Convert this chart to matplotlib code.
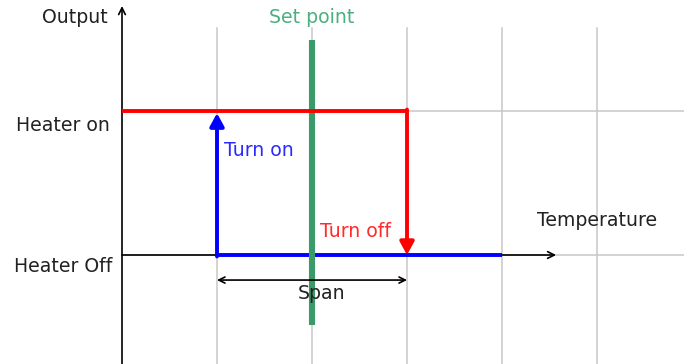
import matplotlib
matplotlib.use("Agg")
import matplotlib.pyplot as plt

# ---- data (temperature in grid units, output 0 = off, 1 = on) ----
grid_temps = [1, 2, 3, 4, 5]
output_levels = [0, 1]
set_point = 2
turn_on_temp = 1
turn_off_temp = 3
blue_off_path_t = [1, 4]
red_on_path_t = [0, 3]
set_point_range = [-0.486, 1.493]
level_labels = ["Heater Off", "Heater on"]

fig = plt.figure(figsize=(6.84, 3.64), dpi=100)
ax = fig.add_axes([0, 0, 1, 1])
ax.set_xlim(-122 / 95, (684 - 122) / 95)
ax.set_ylim((255 - 364) / 144, 255 / 144)
ax.axis("off")

grid_c = "#c8c8c8"
top_grid = 1.576
# vertical grid lines
for t in grid_temps:
    ax.plot([t, t], [ax.get_ylim()[0], top_grid], color=grid_c, lw=1.1, zorder=1)
# horizontal grid lines
for o in output_levels:
    ax.plot([0, ax.get_xlim()[1]], [o, o], color=grid_c, lw=1.1, zorder=1)

# y axis
ax.annotate("", xy=(0, 1.729), xytext=(0, ax.get_ylim()[0]),
            arrowprops=dict(arrowstyle="->", color="black", lw=1.2,
                            shrinkA=0, shrinkB=0, mutation_scale=12), zorder=2)
# x axis
ax.annotate("", xy=(4.57, 0), xytext=(0, 0),
            arrowprops=dict(arrowstyle="->", color="black", lw=1.2,
                            shrinkA=0, shrinkB=0, mutation_scale=12), zorder=2)

# blue off path + turn on arrow
ax.plot(blue_off_path_t, [output_levels[0]] * 2, color="#0000ff", lw=2.8,
        solid_capstyle="butt", zorder=3)
ax.annotate("", xy=(turn_on_temp, 0.985), xytext=(turn_on_temp, output_levels[0] - 0.01),
            arrowprops=dict(arrowstyle="-|>,head_length=0.55,head_width=0.3",
                            color="#0000ff", lw=2.8, shrinkA=0, shrinkB=0,
                            mutation_scale=14), zorder=3)

# set point
ax.plot([set_point, set_point], set_point_range, color="#3a9a6a", lw=4.4,
        solid_capstyle="butt", zorder=4)

# red on path + turn off arrow
ax.plot(red_on_path_t, [output_levels[1]] * 2, color="#ff0000", lw=2.8,
        solid_capstyle="butt", zorder=5)
ax.annotate("", xy=(turn_off_temp, output_levels[0]), xytext=(turn_off_temp, output_levels[1] + 0.01),
            arrowprops=dict(arrowstyle="-|>,head_length=0.55,head_width=0.3",
                            color="#ff0000", lw=2.8, shrinkA=0, shrinkB=0,
                            mutation_scale=14), zorder=5)

# span
ax.annotate("", xy=(turn_off_temp, -0.174), xytext=(turn_on_temp, -0.174),
            arrowprops=dict(arrowstyle="<->", color="black", lw=1.2,
                            shrinkA=0, shrinkB=0, mutation_scale=11), zorder=4)

fs = 13.6
tc = "#222222"
ax.text(-0.147, 1.646, "Output", ha="right", va="center", fontsize=fs, color=tc, zorder=6)
ax.text(set_point, 1.646, "Set point", ha="center", va="center", fontsize=fs, color="#4caf80", zorder=6)
ax.text(-0.126, 0.896, level_labels[1], ha="right", va="center", fontsize=fs, color=tc, zorder=6)
ax.text(-0.105, -0.083, level_labels[0], ha="right", va="center", fontsize=fs, color=tc, zorder=6)
ax.text(1.074, 0.729, "Turn on", ha="left", va="center", fontsize=fs, color="#2b2bff", zorder=6)
ax.text(2.084, 0.160, "Turn off", ha="left", va="center", fontsize=fs, color="#ff2b2b", zorder=6)
ax.text(4.368, 0.243, "Temperature", ha="left", va="center", fontsize=fs, color=tc, zorder=6)
ax.text(2.105, -0.264, "Span", ha="center", va="center", fontsize=fs, color=tc, zorder=6)

fig.savefig("out.png", dpi=100)
